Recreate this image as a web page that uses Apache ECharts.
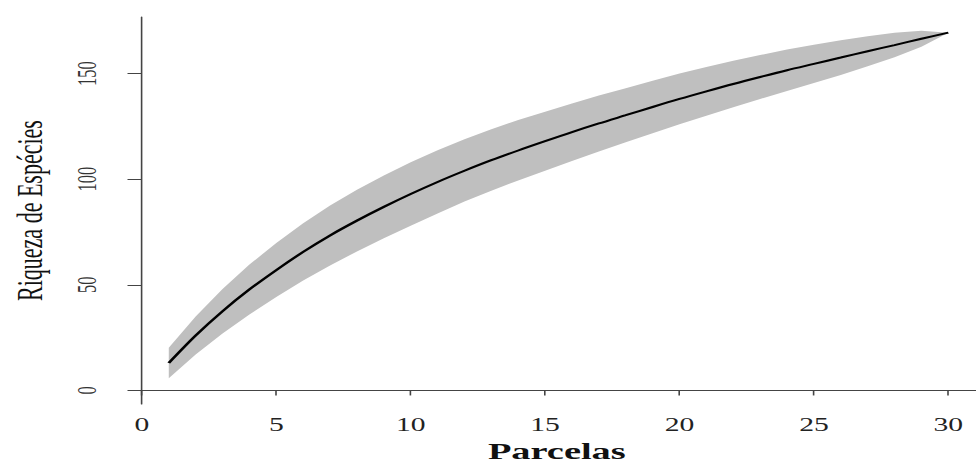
<!DOCTYPE html>
<html>
<head>
<meta charset="utf-8">
<title>Curva de acumulação de espécies</title>
<script src="https://cdn.jsdelivr.net/npm/echarts@6/dist/echarts.min.js"></script>
<style>
  html, body { margin: 0; padding: 0; background: #fff; overflow: hidden; }
  /* o gráfico original está esticado na horizontal */
  #chart { width: 610px; height: 468px; transform: scaleX(1.6); transform-origin: 0 0; }
</style>
</head>
<body>
<div id="chart"></div>
<script>
const parcelas = [1, 2, 3, 4, 5, 6, 7, 8, 9, 10, 11, 12, 13, 14, 15,
  16, 17, 18, 19, 20, 21, 22, 23, 24, 25, 26, 27, 28, 29, 30];
const riqueza = [13.0, 26.0, 37.5, 47.8, 57.0, 65.6, 73.4, 80.4, 86.9, 93.0,
  98.7, 104.0, 109.0, 113.6, 118.0, 122.3, 126.4, 130.3, 134.2, 138.0,
  141.6, 145.1, 148.4, 151.6, 154.6, 157.6, 160.6, 163.5, 166.5, 169.4];
const limiteInferior = [5.8, 17.0, 27.0, 36.0, 44.2, 52.0, 59.2, 65.8, 72.0, 78.0,
  83.8, 89.4, 94.6, 99.4, 104.0, 108.6, 113.1, 117.5, 121.8, 126.0,
  130.1, 134.1, 138.0, 141.8, 145.5, 149.4, 153.5, 157.7, 162.7, 169.4];
const limiteSuperior = [20.2, 35.0, 48.0, 59.6, 69.8, 79.2, 87.6, 95.0, 101.8, 108.0,
  113.7, 118.9, 123.7, 128.0, 132.0, 135.9, 139.6, 143.1, 146.6, 150.0,
  153.1, 156.1, 158.8, 161.4, 163.7, 165.8, 167.7, 169.3, 170.3, 169.4];
const ticksX = [0, 5, 10, 15, 20, 25, 30];
const ticksY = [0, 50, 100, 150];

const fonte = '"Liberation Serif", "Times New Roman", serif';

const chart = echarts.init(document.getElementById('chart'), null, { renderer: 'svg' });

// faixa de confiança: um polígono com o limite superior e o inferior
const faixa = parcelas.map((p, i) => [p, limiteInferior[i], limiteSuperior[i]]);

function desenhaFaixa(params, api) {
  if (params.dataIndex !== 0) return;
  const pts = [];
  faixa.forEach((d) => pts.push(api.coord([d[0], d[2]])));
  for (let i = faixa.length - 1; i >= 0; i--) {
    pts.push(api.coord([faixa[i][0], faixa[i][1]]));
  }
  return {
    type: 'polygon',
    shape: { points: pts, smooth: 0 },
    style: { fill: '#bfbfbf', stroke: null }
  };
}

const option = {
  animation: false,
  grid: { left: 84.4, right: 0, top: 17, bottom: 54, containLabel: false },
  xAxis: {
    type: 'value',
    min: -0.16,
    max: 31.03,
    name: 'Parcelas',
    nameLocation: 'middle',
    nameGap: 32,
    nameTextStyle: { fontFamily: fonte, fontSize: 24, fontWeight: 'bold', color: '#111' },
    axisLine: { show: true, lineStyle: { color: '#444', width: 1 } },
    axisTick: { show: true, length: 5, customValues: ticksX, lineStyle: { color: '#444' } },
    axisLabel: { customValues: ticksX, margin: 11, fontFamily: fonte, fontSize: 18.5, color: '#222' },
    splitLine: { show: false }
  },
  yAxis: {
    type: 'value',
    min: -6.46,
    max: 176.8,
    name: 'Riqueza de Espécies',
    nameLocation: 'middle',
    nameRotate: 90,
    nameGap: 56,
    nameTextStyle: { fontFamily: fonte, fontSize: 22, color: '#111' },
    axisLine: { show: true, lineStyle: { color: '#444', width: 1 } },
    axisTick: { show: true, length: 9, customValues: ticksY, lineStyle: { color: '#444' } },
    axisLabel: { customValues: ticksY, rotate: 90, margin: 23, fontFamily: fonte, fontSize: 16.5, color: '#333' },
    splitLine: { show: false }
  },
  series: [
    {
      type: 'custom',
      renderItem: desenhaFaixa,
      encode: { x: 0, y: [1, 2] },
      data: faixa,
      z: 1
    },
    {
      type: 'line',
      symbol: 'none',
      smooth: 0.3,
      lineStyle: { color: '#000', width: 2 },
      data: parcelas.map((p, i) => [p, riqueza[i]]),
      z: 3
    }
  ]
};

chart.setOption(option);
</script>
</body>
</html>
